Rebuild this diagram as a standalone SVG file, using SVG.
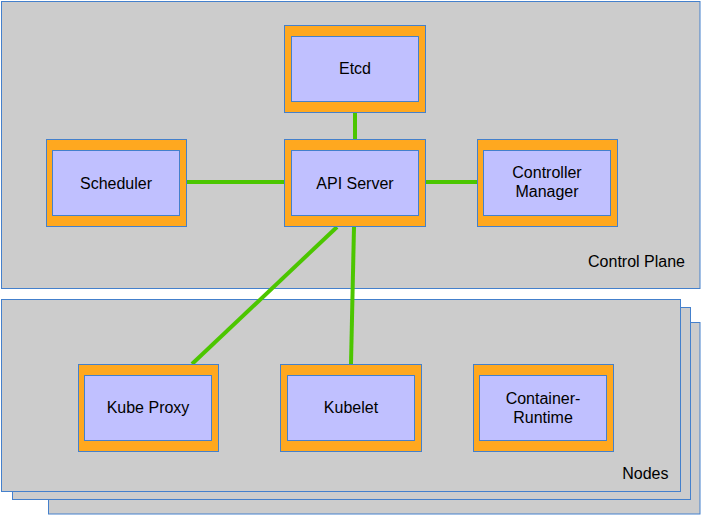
<svg xmlns="http://www.w3.org/2000/svg" width="701" height="515" viewBox="0 0 701 515">
<style>
.panel{fill:#CCCCCC;stroke:#4480CC;stroke-width:1}
.outer{fill:#FFA81F;stroke:#4480CC;stroke-width:1}
.inner{fill:#C0C0FF;stroke:#4480CC;stroke-width:1}
.link{stroke:#4CC600;stroke-width:4;fill:none}
text{font-family:"Liberation Sans",Arial,Helvetica,sans-serif;font-size:16px;fill:#000}
.c{text-anchor:middle}
.e{text-anchor:end}
</style>
<rect width="701" height="515" fill="#FFFFFF"/>
<g id="control-plane">
<rect class="panel" x="1.5" y="1.5" width="698.5" height="287"/>
<text class="e" x="685" y="267">Control Plane</text>
</g>
<g id="nodes">
<rect class="panel" x="48.5" y="322.5" width="651.5" height="191.5"/>
<rect class="panel" x="12.5" y="307.5" width="678" height="192"/>
<rect class="panel" x="1.5" y="299.5" width="679" height="192"/>
<text class="e" x="668.5" y="478.5">Nodes</text>
</g>
<g id="connectors">
<line class="link" x1="355" y1="112" x2="355" y2="140"/>
<line class="link" x1="187" y1="182" x2="284" y2="182"/>
<line class="link" x1="426" y1="182" x2="477" y2="182"/>
<line class="link" x1="337" y1="227" x2="192" y2="364"/>
<line class="link" x1="354" y1="227" x2="351" y2="364"/>
</g>
<g id="etcd">
<rect class="outer" x="284.5" y="25.5" width="141" height="87"/>
<rect class="inner" x="291.5" y="36.5" width="127" height="65"/>
<text class="c" x="355" y="74">Etcd</text>
</g>
<g id="scheduler">
<rect class="outer" x="46.5" y="139.5" width="140" height="87"/>
<rect class="inner" x="52.5" y="150.5" width="127" height="65"/>
<text class="c" x="116" y="188.5">Scheduler</text>
</g>
<g id="api-server">
<rect class="outer" x="284.5" y="139.5" width="141" height="87"/>
<rect class="inner" x="291.5" y="150.5" width="127" height="65"/>
<text class="c" x="355" y="188.5">API Server</text>
</g>
<g id="controller-manager">
<rect class="outer" x="477.5" y="139.5" width="140" height="87"/>
<rect class="inner" x="483.5" y="150.5" width="127" height="65"/>
<text class="c" x="547" y="178">Controller</text>
<text class="c" x="547" y="196.5">Manager</text>
</g>
<g id="kube-proxy">
<rect class="outer" x="78.5" y="364.5" width="140" height="87"/>
<rect class="inner" x="84.5" y="375.5" width="127" height="65"/>
<text class="c" x="148" y="413">Kube Proxy</text>
</g>
<g id="kubelet">
<rect class="outer" x="280.5" y="364.5" width="141" height="87"/>
<rect class="inner" x="287.5" y="375.5" width="127" height="65"/>
<text class="c" x="351" y="413">Kubelet</text>
</g>
<g id="container-runtime">
<rect class="outer" x="473.5" y="364.5" width="140" height="87"/>
<rect class="inner" x="479.5" y="375.5" width="127" height="65"/>
<text class="c" x="543" y="404">Container-</text>
<text class="c" x="543" y="422.5">Runtime</text>
</g>
</svg>
